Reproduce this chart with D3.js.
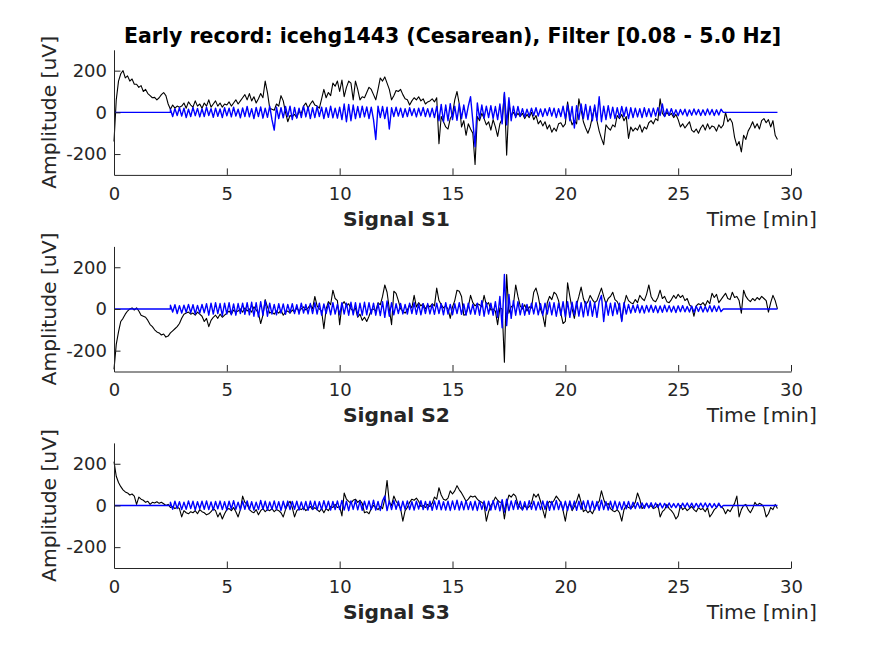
<!DOCTYPE html>
<html>
<head>
<meta charset="utf-8">
<script src="https://cdn.jsdelivr.net/npm/d3@7"></script>
<style>
  body { margin: 0; background: #fff; }
  svg { display: block; font-family: "DejaVu Sans", sans-serif; }
  .axis path, .axis line { stroke: #262626; }
  .axis text { fill: #262626; font-size: 18px; font-family: "DejaVu Sans", sans-serif; }
  .lbl { fill: #262626; font-size: 20.3px; }
</style>
</head>
<body>
<svg id="chart" width="875" height="656"></svg>
<script>
// one sample every 0.1 min
var step = 0.1;
var blueStart = 2.5, blueEnd = 27.0, recordEnd = 29.4;
var xTicks = [0, 5, 10, 15, 20, 25, 30];
var yTicks = [-200, 0, 200];
var signalNames = ['Signal S1', 'Signal S2', 'Signal S3'];

var blackS1 = [
  -140, 60, 150, 185, 200, 165, 175, 150, 160, 135,
  135, 120, 128, 100, 110, 90, 80, 70, 72, 60,
  70, 85, 95, 80, 40, 15, 35, 20, 30, 25,
  30, 45, 20, 50, 35, 25, 55, 30, 40, 20,
  45, 30, 60, 25, 40, 55, 30, 45, 25, 40,
  35, 50, 30, 45, 60, 40, 55, 70, 85, 60,
  90, 55, 75, 45, 65, 90, 70, 150, 95, 20,
  15, 10, 40, 30, 80, 55, 0, -45, -15, -20,
  -10, -25, 5, -5, 30, 45, 20, 40, 55, 35,
  30, 20, 65, 110, 70, 95, 80, 140, 125, 150,
  100, 155, 75, 120, 150, 140, 60, 150, 110, 60,
  75, 70, 95, 120, 110, 85, 60, 110, 165, 150,
  170, 140, 110, 60, 80, 105, 100, 110, 85, 65,
  60, 35, 55, 70, 60, 75, 55, 65, 40, 50,
  55, 65, 50, 70, -150, -20, -45, -70, -80, -30,
  -10, 60, 100, 40, -70, -40, -110, -55, -80, -100,
  -250, -20, -40, -5, -30, -60, -45, -85, -35, -70,
  -115, -55, -30, 90, -205, 40, -15, 0, -20, -5,
  -20, -5, -30, -10, -25, 0, -35, -15, -55, -40,
  -65, -45, -80, -60, -95, -75, -90, -55, -50, -70,
  -55, 50, -20, -60, -40, -55, 65, 10, -45, -75,
  -100, -70, -20, 25, -40, -90, -125, -155, -60, -75,
  -85, -60, -70, -15, -30, -10, -40, -20, -125, -70,
  -90, -75, -85, -60, -95, -70, -80, -50, -40, -55,
  -30, -40, 65, -5, -20, 0, -15, -5, -25, -10,
  -35, -70, -55, -75, -60, -45, -85, -95, -80, -100,
  -75, -60, -85, -55, -80, -65, -70, -90, -60, -75,
  -60, 0, -45, -30, -50, -120, -160, -140, -190, -110,
  -130, -90, -70, -45, -75, -55, -80, -40, -30, -50,
  -35, -70, -40, -110, -130
];

var blueS1 = [
  15, -20, 18, -15, 22,
  -18, 20, -25, 15, -20, 24, -16, 19, -22, 17,
  -20, 25, -15, 18, -24, 20, -19, 16, -25, 22,
  -17, 20, -22, 25, -18, 15, -26, 21, -20, 28,
  -22, 18, -30, 24, -20, 26, -28, 20, -24, 30,
  -35, -85, 25, -30, 22, -26, 28, -20, 30, -35,
  24, -28, 20, -25, 30, -22, 26, -30, 22, -25,
  28, -20, 25, -30, 22, -24, 30, -26, 20, -28,
  25, -35, 40, -45, 38, -40, 35, -30, 28, -25,
  30, -22, 26, -30, 25, -35, -130, 30, -25, 28,
  -30, 25, -80, 22, -20, 25, -18, 20, -24, 18,
  -20, 22, -15, 18, -22, 20, -16, 24, -20, 18,
  -22, 20, -25, 28, -40, 38, -45, 35, -40, 42,
  -35, 30, -38, 40, -30, 35, -28, 30, 75, -40,
  -165, 45, -30, 35, -28, 30, -25, 32, -30, 28,
  -35, 40, -55, 95, -60, 70, -40, 30, -25, 28,
  -20, 18, -22, 15, -18, 20, -15, 22, -18, 16,
  -20, 18, -15, 22, -18, 20, -25, 18, -20, 30,
  -30, 35, -40, 28, -75, 32, -35, 40, -30, 38,
  -35, 30, -40, 35, -38, 75, -45, 30, -35, 32,
  -28, 25, -30, 22, -25, 28, -20, 25, -30, 22,
  -25, 20, -22, 18, -25, 22, -20, 18, -22, 20,
  -18, 22, -15, 40, -20, 16, -14, 18, -15, 12,
  -16, 14, -12, 15, -18, 12, -14, 16, -12, 14,
  -15, 12, -14, 16, -12, 14, -15, 12, -13, 15,
  0
];

var blackS2 = [
  -290, -170, -110, -60, -45, -25, -10, 0, 5, -5,
  5, -10, -30, -35, -40, -55, -75, -85, -100, -110,
  -115, -125, -120, -135, -130, -115, -105, -95, -85, -70,
  -45, -25, -20, -15, -25, -20, -30, -15, -25, -35,
  -60, -45, -85, -55, -40, -30, -45, -25, -40, -30,
  -20, -10, -25, -5, -15, -10, 0, -15, 5, -10,
  0, -15, 10, -5, -20, -70, -30, 45, 10, -20,
  -15, -25, -10, -20, -5, -30, -15, -10, -20, -5,
  -15, 5, -10, 0, 10, -5, 5, 20, 0, 60,
  15, 0, -10, -95, 0, 35, 20, 90, 50, 40,
  -75, 20, 35, 15, 25, 0, -10, 5, -40, -25,
  -55, -40, -60, -35, -5, 0, -10, 30, 20, 60,
  115, 80, 0, -75, 85, 75, 40, 0, -10, -20,
  -5, 20, 5, 65, 10, 30, 15, 25, 0, 20,
  10, 25, 15, 100, 40, 20, 5, 15, 0, -45,
  10, 40, 90, 85, 60, -30, -25, 10, 65, 30,
  15, 25, 20, 10, 65, 20, 30, -5, 0, -10,
  -75, 5, 0, -255, 165, -20, 10, 20, 115, 60,
  15, 0, 20, -10, 10, 5, 80, 100, 60, 0,
  -30, -85, 30, 60, 45, 80, 70, 40, -20, -70,
  -60, 125, 60, 0, -45, 20, 60, 105, 50, 20,
  35, 65, 45, 30, 40, 70, 100, 60, 25, 50,
  60, 80, 45, 35, 10, -55, 20, 65, 40, 30,
  25, 45, 30, 65, 50, 40, 70, 115, 60, 40,
  35, 55, 90, 50, 60, 35, 30, 45, 65, 50,
  70, 55, 65, 40, 50, 20, 10, -35, 15, 25,
  20, 30, 15, 40, 25, 75, 55, 70, 30, 45,
  60, 75, 50, 45, 80, 55, 60, 40, -20, 90,
  60, 45, 35, 50, 40, 55, 45, 60, 50, 40,
  -15, 30, 65, 40, 0
];

var blueS2 = [
  18, -15, 20, -22, 16,
  -20, 18, -16, 22, -18, 20, -24, 17, -20, 22,
  -18, 25, -30, 28, -25, 30, -22, 26, -32, 28,
  -25, 30, -28, 24, -30, 26, -22, 28, -26, 30,
  -28, 32, -35, 30, -38, 35, -30, 40, -35, 28,
  -25, 22, -28, 25, -20, 24, -26, 22, -18, 25,
  -22, 20, -25, 28, -20, 22, -24, 26, -22, 30,
  -25, 28, -30, 24, -22, 26, -28, 30, -25, 22,
  -28, 30, -25, 28, -30, 32, -28, 30, -35, 28,
  -30, 32, -28, 30, -25, 28, -30, 26, -32, 35,
  -40, 38, -35, 30, -28, 25, -22, 26, -24, 22,
  -25, 28, -22, 30, -26, 24, -28, 25, -22, 26,
  -24, 22, -26, 28, -22, 25, -28, 30, -25, 22,
  -28, 25, -22, 30, -26, 24, -30, 28, -25, 22,
  -26, 28, -30, 40, -35, 30, -25, 28, -30, 35,
  -40, 60, -90, 165, -80, 70, -45, 40, -30, 35,
  -28, 25, -30, 22, -26, 28, -24, 30, -28, 25,
  -30, 28, -25, 32, -28, 30, -35, 28, -30, 35,
  -38, 35, -40, 32, -30, 36, -34, 30, -38, 35,
  -32, 38, -35, 30, -40, 36, 65, -60, 35, -30,
  28, -32, 30, -25, 28, -60, 30, -25, 22, -20,
  18, -16, 20, -18, 15, -20, 17, -15, 18, -16,
  15, -18, 14, -16, 18, -14, 16, -15, 13, -17,
  15, -13, 16, -14, 12, -15, 14, -16, 13, -12,
  14, -15, 12, -14, 16, -13, 15, -12, 14, -13,
  0
];

var blackS3 = [
  210, 140, 110, 90, 75, 65, 60, 50, 55, 45,
  5, 40, 30, 25, 15, 20, 5, 15, 12, 18,
  10, 15, 8, 0, 5, -10, -5, -15, -8, -15,
  -55, -25, -35, -40, -30, -35, -25, -40, -20, -30,
  -35, -45, -40, -30, -15, -25, -55, -35, -65, -40,
  -20, -15, -25, -10, -30, -55, -20, 45, 15, 5,
  -20, -30, -35, -20, -45, -25, -15, -30, -20, -25,
  -15, -30, -20, -25, -35, -55, -20, 5, 20, -10,
  -55, -25, -15, -20, -10, -25, -15, -5, -20, -10,
  -20, -30, -15, -35, -15, -25, -5, -10, 5, -10,
  -5, -50, 60, 30, 20, 10, 25, 30, 15, 25,
  10, -35, -30, -40, -15, 0, -10, -20, -5, -15,
  30, 120, 15, 0, 45, 20, 5, -15, -75, -25,
  -10, 15, 30, 25, 35, 20, -5, 0, -10, 5,
  -5, 10, 40, 30, 85, 50, 30, 25, 35, 70,
  55, 70, 95, 75, 60, 40, 20, 30, 45, 40,
  45, 30, 20, 15, 5, -75, -30, 0, 15, 40,
  25, 15, 15, -65, 10, 50, 40, 55, 45, 5,
  -10, -20, 0, -15, -5, 10, 55, 40, 55, 20,
  -20, -60, 5, 20, 10, 25, 45, 30, 15, -25,
  -75, -10, 10, -25, -5, 20, 55, 15, -30, -20,
  -35, -25, -40, -15, 5, 20, 70, 30, 0, 10,
  -15, -25, -30, -20, -35, -75, -20, 0, -10, -15,
  -5, 15, 60, 30, -15, -5, 10, -10, 0, -15,
  -10, 5, -55, -30, -20, 5, -15, -25, -40, -65,
  -50, 0, -20, -10, -25, -15, -5, -20, -30, -10,
  -20, -15, -30, -10, -55, -40, -20, -10, 5, -5,
  -15, -40, -20, -30, -10, 10, 45, -55, -20, 0,
  5, -20, -35, -15, 15, 0, 10, 5, -10, -55,
  -40, -10, -20, 5, -15
];

var blueS3 = [
  15, -18, 20, -15, 18,
  -20, 16, -18, 22, -15, 20, -22, 18, -16, 20,
  -18, 22, -20, 17, -22, 19, -16, 21, -20, 18,
  -22, 20, -17, 23, -19, 16, -21, 20, -18, 22,
  -20, 18, -22, 16, -20, 24, -18, 20, -22, 17,
  -19, 22, -20, 18, -24, 20, -17, 21, -20, 19,
  -18, 20, -22, 17, -20, 19, -23, 21, -18, 20,
  -21, 18, -20, 23, -17, 20, -22, 19, -20, 22,
  -20, 24, -22, 20, -25, 22, -19, 24, -21, 20,
  -23, 20, -18, 22, -20, 25, -22, 19, -24, 22,
  45, -25, 22, -20, 24, -18, 21, -23, 20, -19,
  22, -20, 18, -22, 20, -17, 23, -20, 19, -21,
  20, -23, 22, -19, 24, -21, 18, -22, 20, -24,
  22, -20, 25, -22, 19, -21, 23, -20, 18, -22,
  20, -24, 22, -19, 21, -25, 20, -22, 24, -20,
  22, -26, 28, -32, 30, -25, 22, -20, 24, -18,
  20, -22, 18, -21, 23, -19, 20, -22, 17, -20,
  22, -18, 20, -23, 19, -21, 24, -20, 18, -22,
  20, -24, 22, -19, 21, -23, 20, -18, 22, -20,
  24, -22, 20, -21, 19, -23, 25, -20, 18, -22,
  20, -18, 21, -19, 17, -20, 18, -16, 19, -17,
  16, -15, 14, -13, 12, -14, 11, -12, 13, -11,
  12, -10, 11, -12, 10, -11, 12, -10, 9, -11,
  10, -12, 11, -9, 12, -10, 11, -12, 10, -9,
  11, -10, 12, -9, 10, -11, 9, -10, 11, -10,
  0
];

var blackSeries = [blackS1, blackS2, blackS3];
var blueSeries = [blueS1, blueS2, blueS3];

var width = 875, height = 656;
var left = 114, right = 791;
var panelTop = [49.8, 246.4, 442.9], panelH = 125.1;
var panelShift = [0, 196.6, 393.1];

var svg = d3.select('#chart');
svg.append('rect').attr('width', width).attr('height', height).attr('fill', '#fff');

var x = d3.scaleLinear().domain([0, 30]).range([left, right]);

svg.append('text')
  .attr('x', (left + right) / 2)
  .attr('y', 42.7)
  .attr('text-anchor', 'middle')
  .style('font-weight', 'bold')
  .style('font-size', '20.5px')
  .attr('fill', '#000')
  .text('Early record: icehg1443 (Cesarean), Filter [0.08 - 5.0 Hz]');

signalNames.forEach(function(name, k) {
  var top = panelTop[k], bottom = top + panelH;
  var y = d3.scaleLinear().domain([-300, 300]).range([bottom, top]);
  var line = d3.line()
    .x(function(d) { return x(d[0]); })
    .y(function(d) { return y(d[1]); });

  var blackPts = blackSeries[k].map(function(v, i) { return [i * step, v]; });
  // filtered trace is zero before/after the analysed window
  var bluePts = [[0, 0], [blueStart, 0]]
    .concat(blueSeries[k].map(function(v, i) { return [blueStart + i * step, v]; }))
    .concat([[blueEnd, 0], [recordEnd, 0]]);

  var g = svg.append('g');

  g.append('path')
    .datum(blackPts)
    .attr('d', line)
    .attr('fill', 'none')
    .attr('stroke', '#000')
    .attr('stroke-width', 1.1)
    .attr('stroke-linejoin', 'round');

  g.append('path')
    .datum(bluePts)
    .attr('d', line)
    .attr('fill', 'none')
    .attr('stroke', '#0000ff')
    .attr('stroke-width', 1.4)
    .attr('stroke-linejoin', 'round');

  g.append('g')
    .attr('class', 'axis')
    .attr('transform', 'translate(0,' + bottom + ')')
    .call(d3.axisBottom(x).tickValues(xTicks).tickSizeInner(-6.5).tickSizeOuter(0)
      .tickPadding(12).tickFormat(function(d) { return String(d); }));

  g.append('g')
    .attr('class', 'axis')
    .attr('transform', 'translate(' + left + ',0)')
    .call(d3.axisLeft(y).tickValues(yTicks).tickSizeInner(-6.5).tickSizeOuter(0)
      .tickPadding(7).tickFormat(function(d) { return String(d); }));

  g.append('text')
    .attr('class', 'lbl')
    .attr('transform', 'translate(56,' + ((top + bottom) / 2) + ') rotate(-90)')
    .attr('text-anchor', 'middle')
    .text('Amplitude [uV]');

  g.append('text')
    .attr('class', 'lbl')
    .attr('x', 343)
    .attr('y', 225.5 + panelShift[k])
    .style('font-weight', 'bold')
    .text(name);

  g.append('text')
    .attr('class', 'lbl')
    .attr('x', 706.7)
    .attr('y', 225.5 + panelShift[k])
    .text('Time [min]');
});
</script>
</body>
</html>
